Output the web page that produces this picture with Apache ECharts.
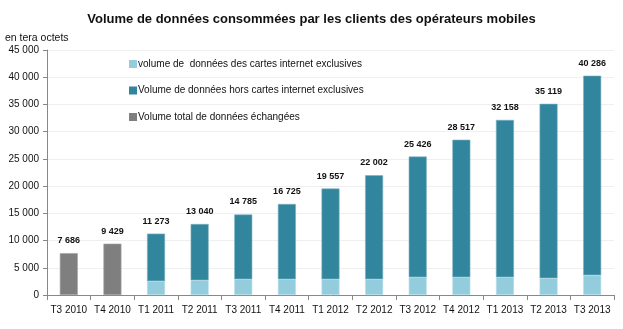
<!DOCTYPE html>
<html>
<head>
<meta charset="utf-8">
<script src="https://cdn.jsdelivr.net/npm/echarts@6/dist/echarts.min.js"></script>
<style>
  html, body { margin: 0; padding: 0; background: #fff; }
  #chart { width: 623px; height: 329px; }
</style>
</head>
<body>
<div id="chart"></div>
<script>
// Quarters shown on the x axis
const categories = ['T3 2010', 'T4 2010', 'T1 2011', 'T2 2011', 'T3 2011', 'T4 2011',
  'T1 2012', 'T2 2012', 'T3 2012', 'T4 2012', 'T1 2013', 'T2 2013', 'T3 2013'];

// Total volume per quarter (tera octets)
const totals = [7686, 9429, 11273, 13040, 14785, 16725, 19557, 22002, 25426, 28517, 32158, 35119, 40286];

// Volume from internet-only cards (available from 2011 on)
const cartesInternet = [null, null, 2530, 2710, 2900, 2900, 2900, 2900, 3270, 3270, 3270, 3080, 3640];

// Number of leading quarters where only the total is known
const totalOnlyCount = 2;

const yTicks = { min: 0, max: 45000, interval: 5000 };

const fmt = v => String(v).replace(/\B(?=(\d{3})+(?!\d))/g, ' ');

const totalOnly = totals.map((v, i) => i < totalOnlyCount ? v : null);
const horsCartes = totals.map((v, i) => cartesInternet[i] == null ? null : v - cartesInternet[i]);

const labelStyle = {
  show: true,
  position: 'top',
  distance: 8,
  fontFamily: 'Arial, Liberation Sans, sans-serif',
  fontSize: 9,
  fontWeight: 'bold',
  color: '#111'
};

const chart = echarts.init(document.getElementById('chart'), null, { renderer: 'canvas' });
chart.setOption({
  animation: false,
  textStyle: { fontFamily: 'Arial, Liberation Sans, sans-serif' },
  title: [{
    text: 'Volume de données consommées par les clients des opérateurs mobiles',
    left: 'center',
    top: 8,
    textStyle: { fontSize: 13, fontWeight: 'bold', color: '#111' }
  }, {
    text: 'en tera octets',
    left: 0,
    top: 28,
    textStyle: { fontSize: 10.5, fontWeight: 'normal', color: '#111' }
  }],
  legend: {
    orient: 'vertical',
    left: 124,
    top: 54,
    itemWidth: 8,
    itemHeight: 8,
    itemGap: 16.5,
    icon: 'rect',
    itemStyle: { borderWidth: 0 },
    textStyle: { fontSize: 10, color: '#111', padding: [0, 0, 0, -4] },
    data: [
      'volume de  données des cartes internet exclusives',
      'Volume de données hors cartes internet exclusives',
      'Volume total de données échangées'
    ]
  },
  grid: { left: 47, right: 9, top: 50, bottom: 34 },
  xAxis: {
    type: 'category',
    data: categories,
    axisLine: { lineStyle: { color: '#888' } },
    axisTick: { show: true, alignWithLabel: false, length: 5, lineStyle: { color: '#888' } },
    axisLabel: { interval: 0, fontSize: 10, color: '#111', margin: 10 }
  },
  yAxis: {
    type: 'value',
    min: yTicks.min,
    max: yTicks.max,
    interval: yTicks.interval,
    axisLine: { show: true, lineStyle: { color: '#888' } },
    axisTick: { show: true, length: 4, inside: false, lineStyle: { color: '#888' } },
    axisLabel: { fontSize: 10, color: '#111', margin: 8, formatter: v => fmt(v) },
    splitLine: { lineStyle: { color: '#efefef' } }
  },
  series: [{
    name: 'Volume total de données échangées',
    type: 'bar',
    stack: 'v',
    barWidth: 18,
    data: totalOnly,
    itemStyle: { color: '#7f7f7f', borderColor: '#a6a6a6', borderWidth: 0.6 },
    label: Object.assign({}, labelStyle, { formatter: p => fmt(p.value) })
  }, {
    name: 'volume de  données des cartes internet exclusives',
    type: 'bar',
    stack: 'v',
    barWidth: 18,
    data: cartesInternet,
    itemStyle: { color: '#93cddd', borderColor: '#b7dfea', borderWidth: 0.6 }
  }, {
    name: 'Volume de données hors cartes internet exclusives',
    type: 'bar',
    stack: 'v',
    barWidth: 18,
    data: horsCartes,
    itemStyle: { color: '#31859c', borderColor: '#7fb2c2', borderWidth: 0.6 },
    label: Object.assign({}, labelStyle, { formatter: p => fmt(totals[p.dataIndex]) })
  }]
});
</script>
</body>
</html>
